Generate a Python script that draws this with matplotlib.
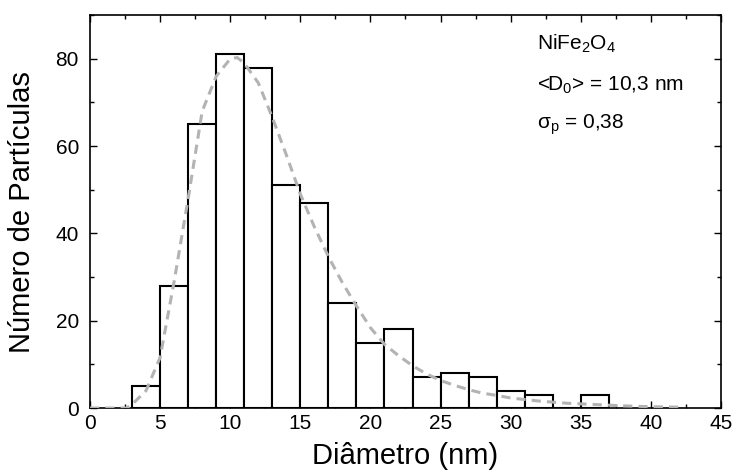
import matplotlib
matplotlib.use("Agg")
import matplotlib.pyplot as plt
from matplotlib.ticker import MultipleLocator

plt.rcParams['font.family'] = ['Liberation Sans', 'DejaVu Sans']
plt.rcParams['mathtext.default'] = 'regular'

# Histogram data (bin left edges, width 2 nm)
bin_left = [3, 5, 7, 9, 11, 13, 15, 17, 19, 21, 23, 25, 27, 29, 31, 33, 35]
counts = [5, 28, 65, 81, 78, 51, 47, 24, 15, 18, 7, 8, 7, 4, 3, 0, 3]
bin_width = 2

# Fitted (log-normal) curve
fit_x = [0, 2.6, 3, 4, 5, 6, 7, 8, 9, 10, 10.5, 11, 12, 13, 14, 15, 16, 17, 18,
         19, 20, 21, 22, 23, 24, 25, 26, 27, 28, 29, 30, 32, 34, 36, 38, 40, 42]
fit_y = [0, 0, 0.8, 4, 11.6, 29, 48, 68, 76, 80, 80.3, 79, 74.5, 66.6, 58, 49,
         41.5, 34.7, 28.7, 23.4, 18.4, 14.6, 12, 9.7, 7.8, 6.3, 5.2, 4.2, 3.4,
         2.9, 2.3, 1.6, 1.1, 0.8, 0.5, 0.3, 0.2]

annot_lines = ["NiFe$_2$O$_4$", "<D$_0$> = 10,3 nm", r"$\sigma_p$ = 0,38"]

fig = plt.figure(figsize=(7.36, 4.75), dpi=100)
ax = fig.add_axes([0.1223, 0.141, 0.8573, 0.827])

ax.bar(bin_left, counts, width=bin_width, align='edge', facecolor='white',
       edgecolor='black', linewidth=1.5, zorder=2)
ax.plot(fit_x, fit_y, linestyle=(0, (3, 2)), color='#b3b3b3', linewidth=2.2, zorder=3)

ax.set_xlim(0, 45)
ax.set_ylim(0, 90)
ax.xaxis.set_major_locator(MultipleLocator(5))
ax.xaxis.set_minor_locator(MultipleLocator(2.5))
ax.yaxis.set_major_locator(MultipleLocator(20))
ax.yaxis.set_minor_locator(MultipleLocator(10))
ax.tick_params(which='both', direction='in', top=True, right=True)
ax.tick_params(which='major', length=5, width=1, labelsize=15)
ax.tick_params(which='minor', length=3, width=1)
ax.tick_params(axis='y', which='major', pad=8)
ax.tick_params(axis='x', which='major', pad=4)
for s in ax.spines.values():
    s.set_linewidth(1.2)

ax.set_xlabel("Diâmetro (nm)", fontsize=21, labelpad=7)
ax.set_ylabel("Número de Partículas", fontsize=21, labelpad=14)

ys = [83.5, 74.0, 65.0]
for t, y in zip(annot_lines, ys):
    ax.text(31.9, y, t, fontsize=15, ha='left', va='center')

fig.savefig("out.png", dpi=100)
